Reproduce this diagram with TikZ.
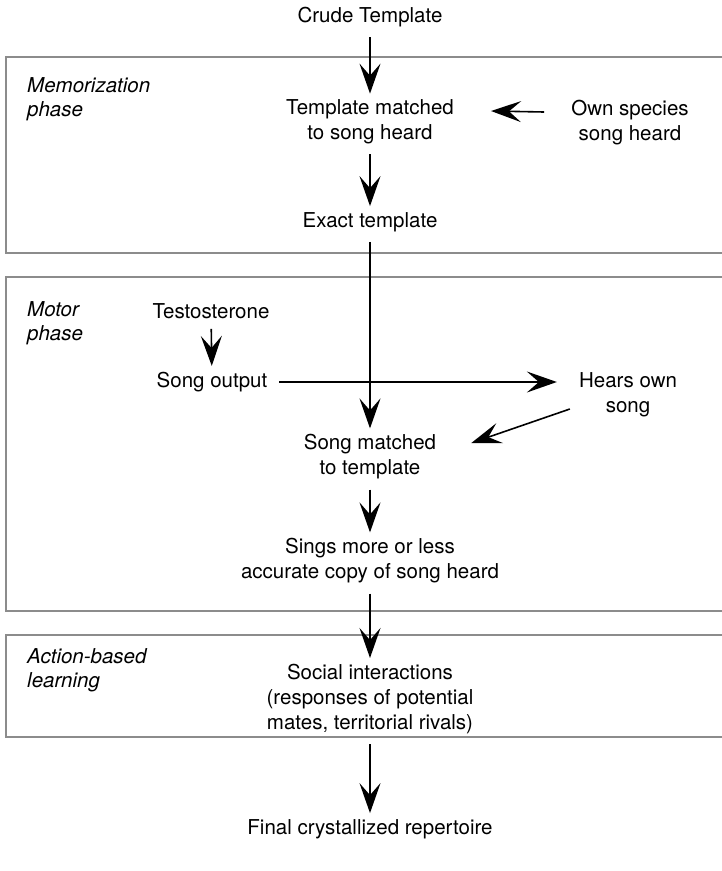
\documentclass[tikz,border=0pt]{standalone}
\usepackage{fontspec}
\setmainfont{TeX Gyre Heros}
\usetikzlibrary{arrows.meta}
\begin{document}
\begin{tikzpicture}[x=1pt,y=-1pt,
  txt/.style={inner sep=0pt,align=center,font=\fontsize{20.5}{25}\selectfont},
  phase/.style={inner sep=0pt,anchor=north west,align=left,font=\fontsize{20.5}{24}\selectfont\itshape},
  panel/.style={draw=black!45,line width=2pt},
  arr/.style={line width=1.6pt,-{Stealth[length=30pt,width=21pt,inset=12pt]},shorten <=10pt,shorten >=6pt}]
\useasboundingbox (0,0) rectangle (721,871);

% phase panels
\draw[panel] (6,57) rectangle (745,253);
\draw[panel] (6,277) rectangle (745,611);
\draw[panel] (6,635) rectangle (745,737);

\node[phase] (pm) at (27,77) {Memorization\\phase};
\node[phase] (pmo) at (27,301) {Motor\\phase};
\node[phase] (pa) at (27,648) {Action-based\\learning};

% process steps
\node[txt] (crude) at (370,17) {Crude Template};
\node[txt] (tmatch) at (370,122) {Template matched\\to song heard};
\node[txt] (own) at (630,123) {Own species\\song heard};
\node[txt] (exact) at (370,222) {Exact template};
\node[txt] (test) at (211,311) {Testosterone};
\node[txt] (sout) at (212,382) {Song output};
\node[txt] (hears) at (628,395) {Hears own\\song};
\node[txt] (smatch) at (370,457) {Song matched\\to template};
\node[txt] (sings) at (370,561) {Sings more or less\\accurate copy of song heard};
\node[txt] (social) at (370,699) {Social interactions\\(responses of potential\\mates, territorial rivals)};
\node[txt] (final) at (370,829) {Final crystallized repertoire};

% connectors
\draw[arr] (crude) -- (tmatch);
\draw[arr,shorten <=0pt,shorten >=0pt] ([xshift=-27pt,yshift=11pt]own.west) -- ([xshift=37pt,yshift=11pt]tmatch.east);
\draw[arr] (tmatch) -- (exact);
\draw[arr] (exact) -- (smatch);
\draw[arr] (test) -- (sout);
\draw[arr,shorten <=12pt,shorten >=22pt] (sout.east) -- (sout.east -| hears.west);
\draw[arr,shorten <=0pt,shorten >=0pt] ([xshift=-9pt,yshift=-14pt]hears.west) -- ([xshift=35pt,yshift=14pt]smatch.east);
\draw[arr] (smatch) -- (sings);
\draw[arr] (sings) -- (social);
\draw[arr] (social) -- (final);
\end{tikzpicture}
\end{document}
